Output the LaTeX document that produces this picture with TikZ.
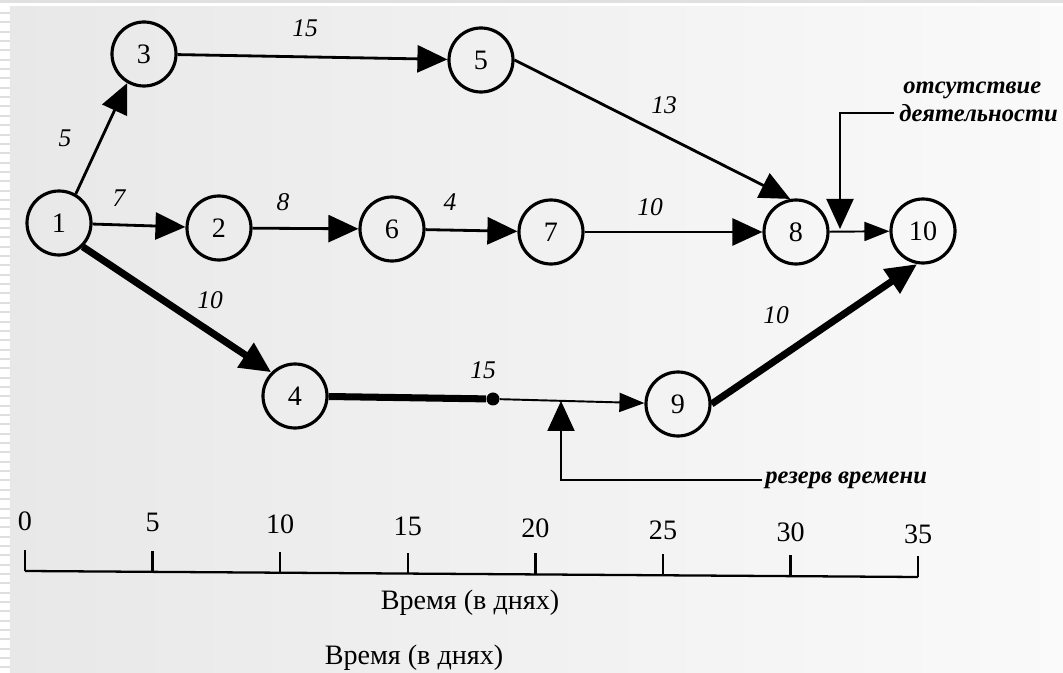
\documentclass[tikz,border=0pt]{standalone}
\usepackage{fontspec}
\setmainfont{Liberation Serif}
\usetikzlibrary{positioning, arrows.meta}

\begin{document}
\begin{tikzpicture}[
  every node/.style={font=\fontsize{15}{17}\selectfont},
  ev/.style={draw, circle, line width=1.8pt, minimum size=1.28cm, inner sep=0pt,
             font=\fontsize{16}{18}\selectfont},
  arr/.style={-{Triangle[length=0.6cm, width=0.54cm]}, line width=1.6pt},
  crit/.style={-{Triangle[length=0.62cm, width=0.56cm]}, line width=4pt},
  thin arr/.style={-{Triangle[length=0.5cm, width=0.38cm]}, line width=1.1pt},
  lbl/.style={font=\fontsize{14.5}{16}\selectfont\itshape},
  note/.style={font=\fontsize{14}{16}\selectfont\bfseries\itshape, anchor=west, inner sep=0pt},
  axnum/.style={font=\fontsize{16}{18}\selectfont}
]

%% page and scan background
\useasboundingbox (0,0) rectangle (21.26,-13.46);
\fill[white] (0,0) rectangle (21.26,-13.46);
\fill[black!12] (0,0) rectangle (21.26,-0.06);
\foreach \i in {0,...,70}
  \fill[black!13] (0,-0.24-0.187*\i) rectangle (0.2,-0.28-0.187*\i);
\shade[left color=black!9, right color=black!2] (0.2,-0.14) rectangle (21.26,-13.46);

%% events
\node[ev] (n1)  at (1.18,-4.46)  {1};
\node[ev] (n3)  at (2.88,-1.08)  {3};
\node[ev] (n5)  at (9.62,-1.20)  {5};
\node[ev] (n2)  at (4.38,-4.56)  {2};
\node[ev] (n6)  at (7.84,-4.58)  {6};
\node[ev] (n7)  at (11.02,-4.64) {7};
\node[ev] (n8)  at (15.92,-4.64) {8};
\node[ev] (n10) at (18.46,-4.62) {10};
\node[ev] (n4)  at (5.90,-7.92)  {4};
\node[ev] (n9)  at (13.56,-8.08) {9};
\node[circle, fill=black, minimum size=0.26cm, inner sep=0pt] (dot) at (9.86,-7.98) {};

%% durations
\node[lbl] (d13)  at (1.30,-2.76)  {5};
\node[lbl] (d35)  at (6.10,-0.56)  {15};
\node[lbl] (d58)  at (13.28,-2.10) {13};
\node[lbl] (d12)  at (2.38,-3.96)  {7};
\node[lbl] (d26)  at (5.66,-4.04)  {8};
\node[lbl] (d67)  at (9.00,-4.04)  {4};
\node[lbl] (d78)  at (13.00,-4.14) {10};
\node[lbl] (d14)  at (4.20,-6.00)  {10};
\node[lbl] (d49)  at (9.66,-7.40)  {15};
\node[lbl] (d910) at (15.52,-6.30) {10};

%% ---- Arrows ----
% upper path
\draw[arr] (n1.60) -- (n3.240);
\draw[arr] (n3) -- (n5);
\draw[arr] (n5.east) -- (n8.100);

% middle path
\draw[arr] (n1) -- (n2);
\draw[arr] (n2) -- (n6);
\draw[arr] (n6) -- (n7);
\draw[arr] (n7) -- (n8);
\draw[thin arr] (n8) -- (n10);

% lower (critical) path
\draw[crit] (n1.south east) -- (n4.north west);
\draw[line width=4pt] (n4) -- (dot);
\draw[thin arr] (dot) -- (n9);
\draw[crit] (n9.east) -- (n10.260);

%% ---- Callouts ----
\node[note] (idle1) at (18.06,-1.80) {отсутствие};
\node[note] (idle2) at (17.98,-2.26) {деятельности};
\coordinate (idletip) at (16.80,-4.58);
\draw[arr, line width=1.2pt] (idle2.west) ++(-0.1,0) -| (idletip);

\node[note] (slack) at (15.30,-9.60) {резерв времени};
\coordinate (slacktip) at (11.22,-8.02);
\draw[arr, line width=1.2pt] (slack.west) ++(-0.06,0) -| (slacktip);

%% ---- Time axis (the scan sits a little askew) ----
\draw[line width=1.3pt] (0.50,-11.42) -- (18.36,-11.54);
\foreach \k [evaluate=\k as \x using 0.50+2.552*\k,
             evaluate=\k as \y using -11.42-0.017*\k,
             evaluate=\k as \t using int(5*\k)] in {0,...,7} {
  \draw[line width=1.3pt] (\x,\y) -- (\x,\y+0.42);
  \node[axnum] (t\k) at (\x,\y+1.0-0.02*\k) {\t};
}
\node[font=\fontsize{16}{18}\selectfont] (axis1) at (9.40,-12.06) {Время (в днях)};
\node[font=\fontsize{16}{18}\selectfont] (axis2) at (8.28,-13.16) {Время (в днях)};

\end{tikzpicture}
\end{document}
